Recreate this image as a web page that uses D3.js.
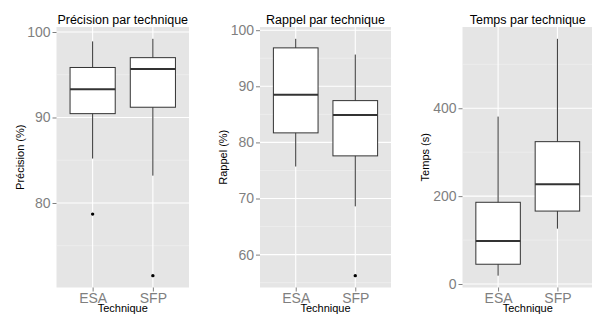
<!DOCTYPE html>
<html>
<head>
<meta charset="utf-8">
<script src="https://cdn.jsdelivr.net/npm/d3@7"></script>
<style>
  body { margin: 0; background: #fff; }
  svg { display: block; font-family: "Liberation Sans", Arial, sans-serif; }
</style>
</head>
<body>
<svg id="canvas"></svg>
<script>
"use strict";

// categories
const techniques = ["ESA", "SFP"];

// box stats per technique: [lower whisker, Q1, median, Q3, upper whisker]
const precisionStats = [[85.2, 90.45, 93.3, 95.85, 98.9], [83.2, 91.2, 95.66, 97.0, 99.2]];
const precisionOutliers = [[78.7], [71.5]];
const precisionTicks = [80, 90, 100];
const precisionMinor = [75, 85, 95];

const rappelStats = [[75.7, 81.7, 88.5, 96.85, 98.46], [68.6, 77.6, 84.9, 87.45, 95.66]];
const rappelOutliers = [[], [56.25]];
const rappelTicks = [60, 70, 80, 90, 100];
const rappelMinor = [55, 65, 75, 85, 95];

const tempsStats = [[19, 45, 98, 186, 381], [126, 166, 227, 324, 558]];
const tempsOutliers = [[], []];
const tempsTicks = [0, 200, 400];
const tempsMinor = [100, 300, 500];

const titles = ["Précision par technique", "Rappel par technique", "Temps par technique"];
const yTitles = ["Précision (%)", "Rappel (%)", "Temps (s)"];
const xTitle = "Technique";

let width = 592;
let height = 315;
let panelTop = 27;
let panelBottom = 287.5;

let canvas = d3.select('#canvas')
canvas.attr('width', width)
    .attr('height', height);

const panels = [
    {stats: precisionStats, outliers: precisionOutliers, ticks: precisionTicks, minor: precisionMinor, left: 56.5, right: 189, yTitleX: 20},
    {stats: rappelStats, outliers: rappelOutliers, ticks: rappelTicks, minor: rappelMinor, left: 260, right: 391, yTitleX: 223},
    {stats: tempsStats, outliers: tempsOutliers, ticks: tempsTicks, minor: tempsMinor, left: 462.5, right: 593, yTitleX: 425}
];

const drawPanel = (p, i) => {
    let all = [];
    p.stats.forEach((s, k) => { all = all.concat(s, p.outliers[k]); });
    let lo = d3.min(all), hi = d3.max(all);
    let pad = (hi - lo) * 0.05;

    let xScale = d3.scalePoint()
        .domain(techniques)
        .range([p.left, p.right])
        .padding(0.6);
    let yScale = d3.scaleLinear()
        .domain([lo - pad, hi + pad])
        .range([panelBottom, panelTop]);

    let g = canvas.append('g');

    g.append('rect')
        .attr('x', p.left)
        .attr('y', panelTop)
        .attr('width', p.right - p.left)
        .attr('height', panelBottom - panelTop)
        .attr('fill', '#e5e5e5');

    // minor grid
    g.selectAll('.minor')
        .data(p.minor)
        .enter()
        .append('line')
        .attr('x1', p.left).attr('x2', p.right)
        .attr('y1', (d) => yScale(d)).attr('y2', (d) => yScale(d))
        .attr('stroke', '#f2f2f2')
        .attr('stroke-width', 0.6);

    // major grid
    g.selectAll('.major')
        .data(p.ticks)
        .enter()
        .append('line')
        .attr('x1', p.left).attr('x2', p.right)
        .attr('y1', (d) => yScale(d)).attr('y2', (d) => yScale(d))
        .attr('stroke', '#fff')
        .attr('stroke-width', 1.1);
    g.selectAll('.vmajor')
        .data(techniques)
        .enter()
        .append('line')
        .attr('x1', (d) => xScale(d)).attr('x2', (d) => xScale(d))
        .attr('y1', panelTop).attr('y2', panelBottom)
        .attr('stroke', '#fff')
        .attr('stroke-width', 1.1);

    let bw = xScale.step() * 0.75;

    let boxes = g.selectAll('.box')
        .data(p.stats)
        .enter()
        .append('g');

    boxes.append('line')
        .attr('x1', (d, k) => xScale(techniques[k]))
        .attr('x2', (d, k) => xScale(techniques[k]))
        .attr('y1', (d) => yScale(d[0]))
        .attr('y2', (d) => yScale(d[4]))
        .attr('stroke', '#333')
        .attr('stroke-width', 1);
    boxes.append('rect')
        .attr('x', (d, k) => xScale(techniques[k]) - bw / 2)
        .attr('y', (d) => yScale(d[3]))
        .attr('width', bw)
        .attr('height', (d) => yScale(d[1]) - yScale(d[3]))
        .attr('fill', '#fff')
        .attr('stroke', '#333')
        .attr('stroke-width', 1);
    boxes.append('line')
        .attr('x1', (d, k) => xScale(techniques[k]) - bw / 2)
        .attr('x2', (d, k) => xScale(techniques[k]) + bw / 2)
        .attr('y1', (d) => yScale(d[2]))
        .attr('y2', (d) => yScale(d[2]))
        .attr('stroke', '#333')
        .attr('stroke-width', 2);

    p.outliers.forEach((arr, k) => {
        g.selectAll('.out' + k)
            .data(arr)
            .enter()
            .append('circle')
            .attr('cx', xScale(techniques[k]))
            .attr('cy', (d) => yScale(d))
            .attr('r', 1.7)
            .attr('fill', '#000');
    });

    // axes
    let yAxis = d3.axisLeft(yScale)
        .tickValues(p.ticks)
        .tickSize(4)
        .tickPadding(2);
    let yG = g.append('g')
        .attr('transform', 'translate(' + p.left + ', 0)')
        .call(yAxis);
    let xAxis = d3.axisBottom(xScale)
        .tickSize(4)
        .tickPadding(2);
    let xG = g.append('g')
        .attr('transform', 'translate(0, ' + panelBottom + ')')
        .call(xAxis);
    [yG, xG].forEach((a) => {
        a.select('.domain').remove();
        a.selectAll('line').attr('stroke', '#7f7f7f');
        a.selectAll('text')
            .attr('fill', '#7f7f7f')
            .style('font-size', '14px')
            .style('font-family', '"Liberation Sans", Arial, sans-serif');
    });

    let cx = (p.left + p.right) / 2;
    g.append('text')
        .attr('x', cx)
        .attr('y', 24)
        .attr('text-anchor', 'middle')
        .style('font-size', '12.5px')
        .text(titles[i]);
    g.append('text')
        .attr('x', cx)
        .attr('y', 312)
        .attr('text-anchor', 'middle')
        .style('font-size', '11px')
        .text(xTitle);
    g.append('text')
        .attr('transform', 'translate(' + p.yTitleX + ',' + ((panelTop + panelBottom) / 2) + ') rotate(-90)')
        .attr('text-anchor', 'middle')
        .attr('dy', '0.35em')
        .style('font-size', '11px')
        .text(yTitles[i]);
};

panels.forEach(drawPanel);
</script>
</body>
</html>
